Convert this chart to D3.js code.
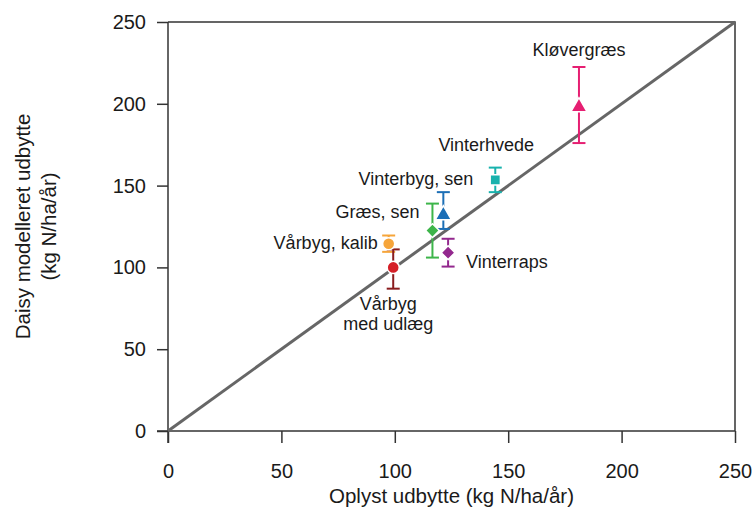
<!DOCTYPE html>
<html>
<head>
<meta charset="utf-8">
<script src="https://cdn.jsdelivr.net/npm/d3@7"></script>
<style>
  html, body { margin: 0; padding: 0; background: #fff; }
  svg text { font-family: "Liberation Sans", Arial, Helvetica, sans-serif; fill: #1a1a1a; }
</style>
</head>
<body>
<svg id="chart" width="756" height="510"></svg>
<script>
// Crop names, observed yield (x), Daisy-modelled yield (y) and its range
const crops    = ["Kløvergræs", "Vinterhvede", "Vinterbyg, sen", "Græs, sen", "Vinterraps", "Vårbyg, kalib", "Vårbyg\nmed udlæg"];
const observed = [181.2, 144.3, 121.4, 116.6, 123.5, 97.3, 99.3];
const modelled = [198, 153.5, 132, 122.5, 109, 114.5, 100];
const lower    = [176, 146, 123.5, 106, 100.5, 109.5, 87];
const upper    = [222.5, 161, 146, 139, 117.5, 119.5, 111];
const ticks    = [0, 50, 100, 150, 200, 250];

// Styling per crop
const markerShape = ["triangle", "square", "triangle", "diamond", "diamond", "circle", "circle"];
const markerColor = ["#e61f72", "#18b2ad", "#1c6fb6", "#3db54a", "#93288e", "#f6a53a", "#d51f27"];
const barColor    = ["#e61f72", "#18b2ad", "#1c6fb6", "#3db54a", "#93288e", "#f6a53a", "#8a1c1e"];
// Label placement relative to the marker: [dx, dy, anchor]
const labelPlace  = [[0, -51, "middle"], [-9, -29, "middle"], [30, -30, "end"], [-13, -13, "end"],
                     [18, 15, "start"], [-11, 5, "end"], [-5, 43, "middle"]];

const svg = d3.select("#chart");
const pLeft = 168, pRight = 735, pTop = 22, pBottom = 431;

const x = d3.scaleLinear().domain([0, 250]).range([pLeft, pRight]);
const y = d3.scaleLinear().domain([0, 250]).range([pBottom, pTop]);

// Frame (top and right edges)
svg.append("path")
  .attr("d", `M${pLeft},${pTop}H${pRight}V${pBottom}`)
  .attr("fill", "none").attr("stroke", "#333").attr("stroke-width", 1.5);

// Axes
const xAxis = svg.append("g").attr("transform", `translate(0,${pBottom})`)
  .call(d3.axisBottom(x).tickValues(ticks).tickSize(12).tickPadding(21));
const yAxis = svg.append("g").attr("transform", `translate(${pLeft},0)`)
  .call(d3.axisLeft(y).tickValues(ticks).tickSize(11).tickPadding(11));
[xAxis, yAxis].forEach(g => {
  g.select(".domain").remove();
  g.selectAll("line").attr("stroke", "#333").attr("stroke-width", 1.5);
  g.selectAll("text").attr("font-size", 20).attr("fill", "#1a1a1a")
    .style("font-family", '"Liberation Sans", Arial, sans-serif');
});
svg.append("line").attr("x1", pLeft - 11).attr("x2", pRight).attr("y1", pBottom).attr("y2", pBottom)
  .attr("stroke", "#333").attr("stroke-width", 1.5);
svg.append("line").attr("x1", pLeft).attr("x2", pLeft).attr("y1", pTop).attr("y2", pBottom + 12)
  .attr("stroke", "#333").attr("stroke-width", 1.5);

// 1:1 line
svg.append("line")
  .attr("x1", x(0)).attr("y1", y(0)).attr("x2", x(250)).attr("y2", y(250))
  .attr("stroke", "#666").attr("stroke-width", 3);

// Axis titles
svg.append("text").attr("x", (pLeft + pRight) / 2).attr("y", 503)
  .attr("text-anchor", "middle").attr("font-size", 20.5).text("Oplyst udbytte (kg N/ha/år)");
const yt = svg.append("text").attr("transform", `translate(30,${(pTop + pBottom) / 2}) rotate(-90)`)
  .attr("text-anchor", "middle").attr("font-size", 20.5);
yt.append("tspan").attr("x", 0).attr("y", 0).text("Daisy modelleret udbytte");
yt.append("tspan").attr("x", 0).attr("y", 26).text("(kg N/ha/år)");

const data = crops.map((c, i) => ({
  name: c, x: observed[i], y: modelled[i], lo: lower[i], hi: upper[i],
  shape: markerShape[i], mc: markerColor[i], bc: barColor[i], place: labelPlace[i]
}));

// Error bars
const cap = 6.5;
const bars = svg.append("g").selectAll("g").data(data).join("g");
bars.append("line")
  .attr("x1", d => x(d.x)).attr("x2", d => x(d.x))
  .attr("y1", d => y(d.lo)).attr("y2", d => y(d.hi))
  .attr("stroke", d => d.bc).attr("stroke-width", 2);
bars.append("line")
  .attr("x1", d => x(d.x) - cap).attr("x2", d => x(d.x) + cap)
  .attr("y1", d => y(d.hi)).attr("y2", d => y(d.hi))
  .attr("stroke", d => d.bc).attr("stroke-width", 2);
bars.append("line")
  .attr("x1", d => x(d.x) - cap).attr("x2", d => x(d.x) + cap)
  .attr("y1", d => y(d.lo)).attr("y2", d => y(d.lo))
  .attr("stroke", d => d.bc).attr("stroke-width", 2);

// Markers
const symbolOf = {
  circle:   d3.symbol(d3.symbolCircle, 115),
  square:   d3.symbol(d3.symbolSquare, 105),
  triangle: d3.symbol(d3.symbolTriangle, 115),
  diamond:  d3.symbol(d3.symbolSquare, 95)
};
svg.append("g").selectAll("path").data(data).join("path")
  .attr("d", d => symbolOf[d.shape]())
  .attr("transform", d => `translate(${x(d.x)},${y(d.y)})` + (d.shape === "diamond" ? " rotate(45)" : ""))
  .attr("fill", d => d.mc)
  .attr("stroke", "#fff").attr("stroke-width", 1.5);

// Crop labels
const labels = svg.append("g").selectAll("text").data(data).join("text")
  .attr("x", d => x(d.x) + d.place[0])
  .attr("y", d => y(d.y) + d.place[1])
  .attr("text-anchor", d => d.place[2])
  .attr("font-size", 18);
labels.each(function(d) {
  const t = d3.select(this);
  d.name.split("\n").forEach((line, k) => {
    t.append("tspan").attr("x", x(d.x) + d.place[0]).attr("dy", k === 0 ? 0 : 20).text(line);
  });
});
</script>
</body>
</html>
